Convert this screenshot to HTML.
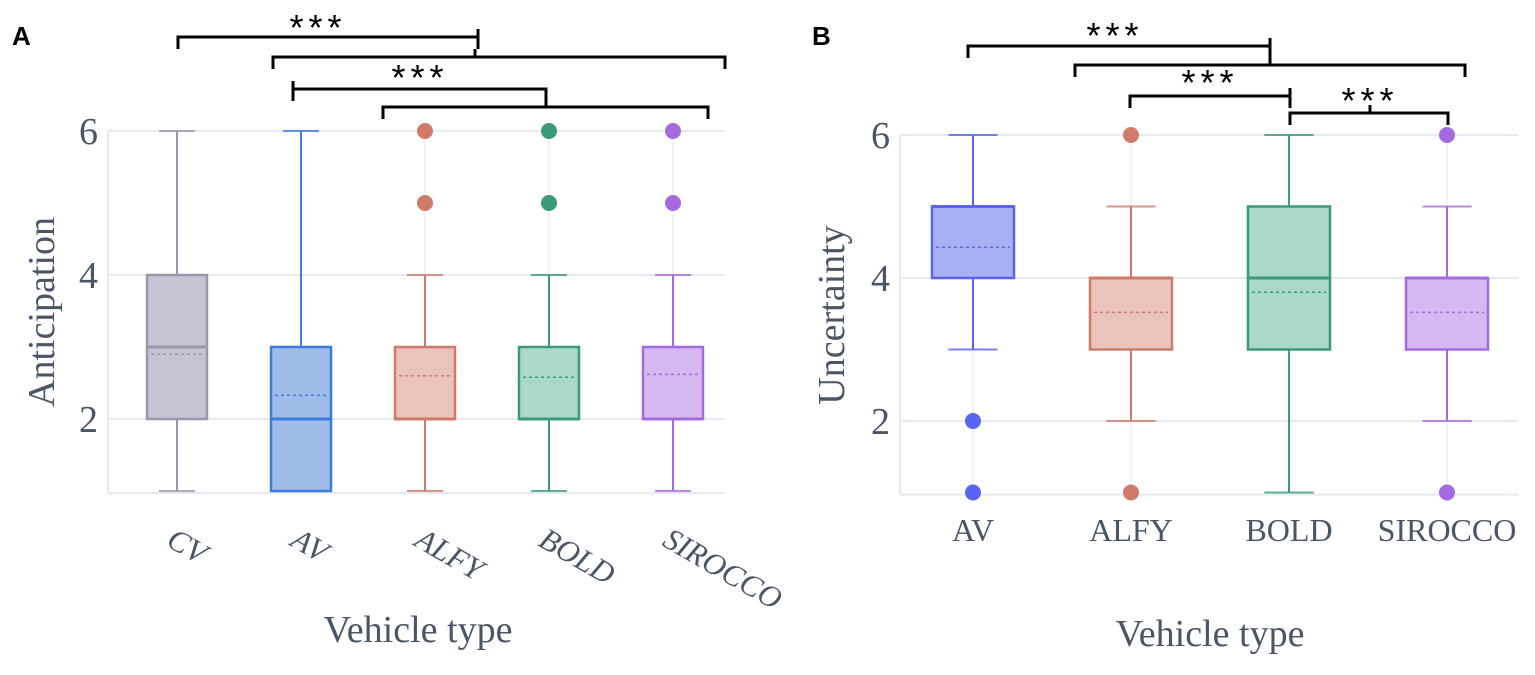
<!DOCTYPE html>
<html><head><meta charset="utf-8"><style>
body{margin:0;background:#fff;width:1535px;height:675px;overflow:hidden}
svg{display:block}
</style></head><body>
<svg id="c" width="1535" height="675" font-family="'Liberation Serif', serif"></svg>
<script>
const catsA=["CV","AV","ALFY","BOLD","SIROCCO"];
const loA=[1,1,1,1,1];
const q1A=[2,1,2,2,2];
const medA=[3,2,2,2,2];
const q3A=[4,3,3,3,3];
const hiA=[6,6,4,4,4];
const meanA=[2.9,2.33,2.6,2.58,2.62];
const outA=[[],[],[5,6],[5,6],[5,6]];
const catsB=["AV","ALFY","BOLD","SIROCCO"];
const loB=[3,2,1,2];
const q1B=[4,3,3,3];
const medB=[5,4,4,4];
const q3B=[5,4,5,4];
const hiB=[6,5,6,5];
const meanB=[4.43,3.52,3.8,3.52];
const outB=[[2,1],[6,1],[],[6,1]];
const yTicks=[2,4,6];
const colA=[["#9a97ad","#c6c4d2"],["#3d7be0","#9fbde8"],["#d07a6a","#eac3bb"],["#3a9a7a","#acd8c8"],["#a66ae0","#d6b8f2"]];
const colB=[["#5a64f0","#aab0f6"],["#d07a6a","#eac3bb"],["#3a9a7a","#acd8c8"],["#a66ae0","#d6b8f2"]];
const NS="http://www.w3.org/2000/svg";
const svg=document.getElementById('c');
function el(t,a,txt){const e=document.createElementNS(NS,t);for(const k in a)e.setAttribute(k,a[k]);if(txt!==undefined)e.textContent=txt;svg.appendChild(e);return e;}
function panel(p){
  const y=v=>p.y6+(6-v)*(p.y4-p.y6)/2;
  const x=i=>p.x0+i*p.dx;
  yTicks.forEach(t=>{
    const g=el('line',{x1:p.left,x2:p.right,y1:y(t),y2:y(t),stroke:"#e6e8f2","stroke-width":2});
    
    const tl=el('text',{x:p.left-10,y:y(t)+13,"text-anchor":"end","font-size":38,fill:"#4a5565"},t);
    
  });
  const bl=el('line',{x1:p.left,x2:p.right,y1:y(1)+2,y2:y(1)+2,stroke:"#e6e8f2","stroke-width":2});
  
  const vl=el('line',{x1:p.left,x2:p.left,y1:y(6),y2:y(1)+2,stroke:"#e6e8f2","stroke-width":2});
  
  p.cats.forEach((c,i)=>{
    const cx=x(i),w=p.bw,[s,f]=p.col[i];
    const g=el('line',{x1:cx,x2:cx,y1:y(6),y2:y(1),stroke:"#eceef6","stroke-width":1.5});
    
    const wh=el('line',{x1:cx,x2:cx,y1:y(p.hi[i]),y2:y(p.lo[i]),stroke:s,"stroke-width":2});
    
    [p.hi[i],p.lo[i]].forEach(v=>{const cap=el('line',{x1:cx-w*0.3,x2:cx+w*0.3,y1:y(v),y2:y(v),stroke:s,"stroke-width":2,opacity:0.8});
      });
    const b=el('rect',{x:cx-w/2,y:y(p.q3[i]),width:w,height:Math.max(y(p.q1[i])-y(p.q3[i]),0.5),fill:f,stroke:s,"stroke-width":2.5});
    
    const m=el('line',{x1:cx-w/2,x2:cx+w/2,y1:y(p.med[i]),y2:y(p.med[i]),stroke:s,"stroke-width":3});
    
    const mn=el('line',{x1:cx-w/2+4,x2:cx+w/2-4,y1:y(p.mean[i]),y2:y(p.mean[i]),stroke:s,"stroke-width":1.5,"stroke-dasharray":"3,3"});
    
    p.out[i].forEach(v=>{const o=el('circle',{cx:cx,cy:y(v),r:8,fill:s});
      });
    let lt;
    if(p.rot){lt=el('text',{x:cx-12,y:p.ly,"font-size":31,fill:"#4a5565","font-style":"italic",transform:`rotate(30 ${cx-12} ${p.ly})`},c);}
    else{lt=el('text',{x:cx,y:p.ly,"font-size":32,fill:"#4a5565","text-anchor":"middle"},c);}
    
  });
  const xt=el('text',{x:p.xtx,y:p.xty,"font-size":38,fill:"#4a5565","text-anchor":"middle"},"Vehicle type");
  
  const yt=el('text',{x:p.ytx,y:p.yty,"font-size":38,fill:"#4a5565","text-anchor":"middle",transform:`rotate(-90 ${p.ytx} ${p.yty})`},p.ytitle);
  
  const pl=el('text',{x:p.lx,y:45,"font-size":26,"font-weight":"bold","font-family":"'Liberation Sans',sans-serif",fill:"#000"},p.label);
  
  p.brackets.forEach(br=>{
    const [x1,x2,yt2,ctr,st]=br;
    const pa=el('path',{d:`M${x1},${yt2+12} L${x1},${yt2} L${x2},${yt2} L${x2},${yt2+12} M${ctr},${yt2} L${ctr},${yt2-8}`,stroke:"#000","stroke-width":3,fill:"none"});
    
    if(st){const s=el('text',{x:st[0],y:st[1],"font-size":36,"text-anchor":"middle","font-family":"'Liberation Sans',sans-serif",fill:"#000","letter-spacing":"5"},"***");
      }
  });
}
panel({cats:catsA,lo:loA,q1:q1A,med:medA,q3:q3A,hi:hiA,mean:meanA,out:outA,col:colA,
  y6:131,y4:275,left:108,right:725,x0:177,dx:124,bw:60,rot:true,ly:545,xtx:418,xty:642,ytx:54,yty:312,ytitle:"Anticipation",label:"A",lx:12,
  brackets:[[178,478,37,478,[318,40]],[273,725,57,475,null],[293,546,89,293,[420,90]],[383,708,107,546,null]]});
panel({cats:catsB,lo:loB,q1:q1B,med:medB,q3:q3B,hi:hiB,mean:meanB,out:outB,col:colB,
  y6:135,y4:278,left:900,right:1518,x0:973,dx:158,bw:82,rot:false,ly:541,xtx:1210,xty:646,ytx:844,yty:315,ytitle:"Uncertainty",label:"B",lx:812,
  brackets:[[968,1270,46,1270,[1115,48]],[1075,1465,65,1270,null],[1130,1290,96,1290,[1210,95]],[1290,1448,113,1370,[1370,113]]]});
</script>
</body></html>
